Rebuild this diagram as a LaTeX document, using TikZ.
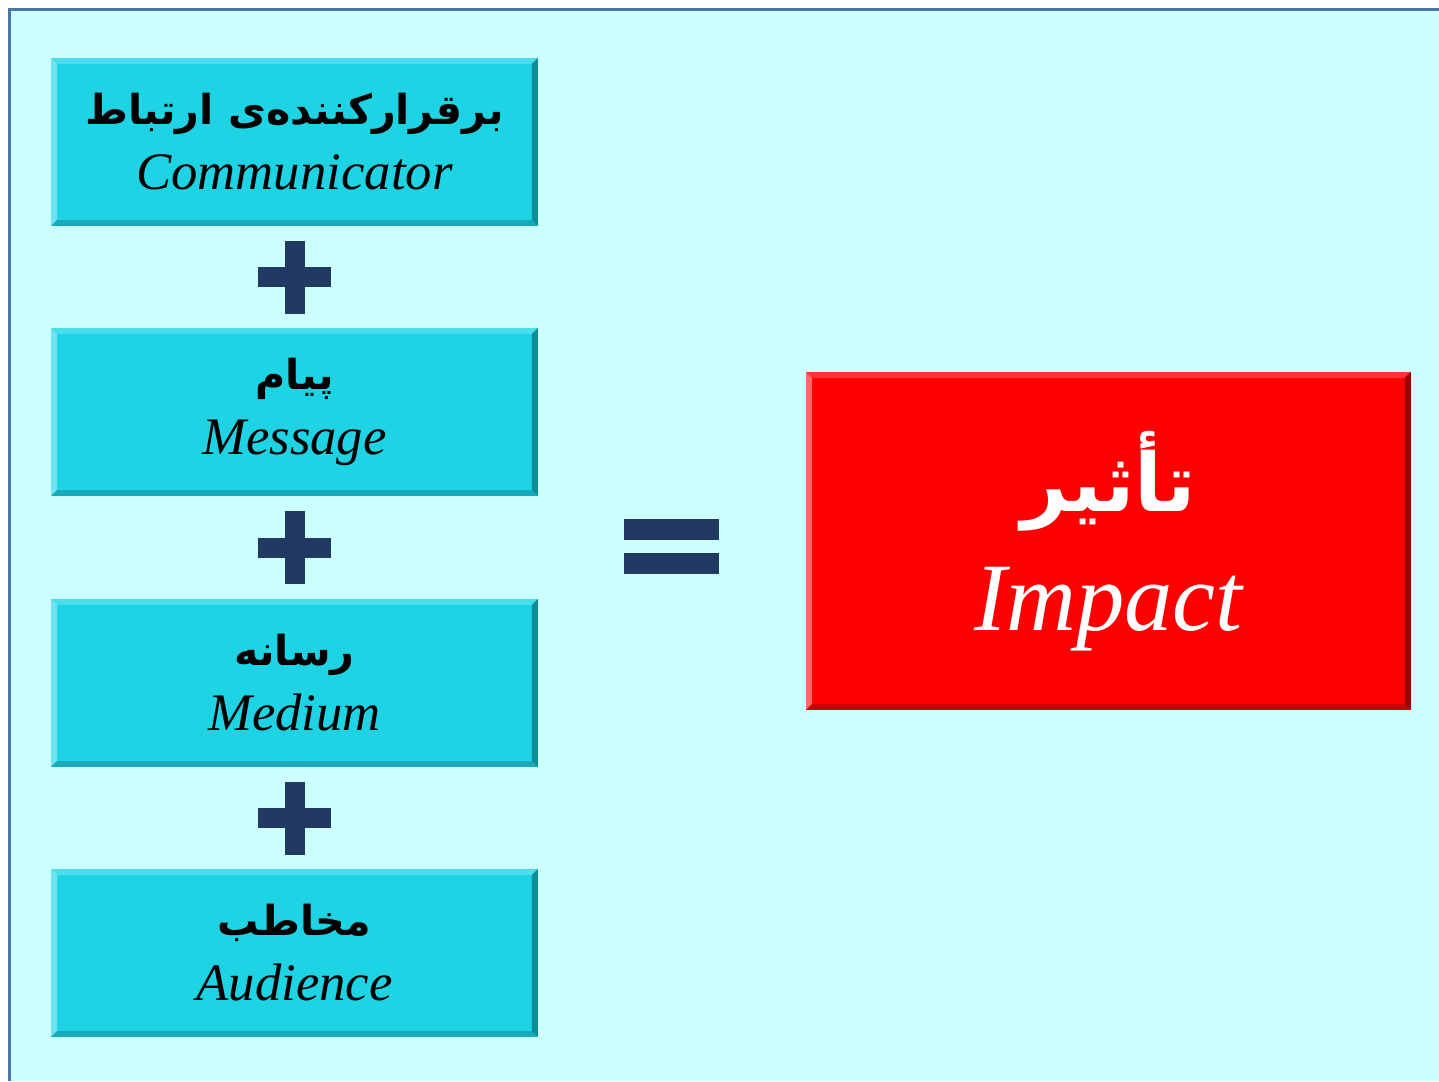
\documentclass[tikz,border=0pt]{standalone}
\usepackage{fontspec}
\setmainfont{Liberation Serif}
\newfontfamily\farsifont[Script=Arabic]{DejaVu Sans}
\TeXXeTstate=1
\usetikzlibrary{positioning}
\definecolor{bgcyan}{RGB}{204,255,255}
\definecolor{framegray}{RGB}{74,118,168}
\definecolor{boxface}{RGB}{29,211,228}
\definecolor{boxtop}{RGB}{74,221,235}
\definecolor{boxleft}{RGB}{111,227,239}
\definecolor{boxright}{RGB}{15,140,150}
\definecolor{boxbottom}{RGB}{23,170,184}
\definecolor{redface}{RGB}{255,0,0}
\definecolor{redtop}{RGB}{255,51,51}
\definecolor{redleft}{RGB}{255,102,102}
\definecolor{redright}{RGB}{153,0,0}
\definecolor{redbottom}{RGB}{204,0,0}
\definecolor{signnavy}{RGB}{33,58,99}

% bevelled edge inside a node: top, left, right, bottom, width
\newcommand{\bevels}[5]{%
  \path (path picture bounding box.north west) coordinate (pNW)
        (path picture bounding box.north east) coordinate (pNE)
        (path picture bounding box.south west) coordinate (pSW)
        (path picture bounding box.south east) coordinate (pSE);
  \fill[#1] (pNW) -- (pNE) -- ([shift={(-#5,-#5)}]pNE) -- ([shift={(#5,-#5)}]pNW) -- cycle;
  \fill[#2] (pNW) -- ([shift={(#5,-#5)}]pNW) -- ([shift={(#5,#5)}]pSW) -- (pSW) -- cycle;
  \fill[#3] (pNE) -- (pSE) -- ([shift={(-#5,#5)}]pSE) -- ([shift={(-#5,-#5)}]pNE) -- cycle;
  \fill[#4] (pSW) -- ([shift={(#5,#5)}]pSW) -- ([shift={(-#5,#5)}]pSE) -- (pSE) -- cycle;
}
\newcommand{\fa}[1]{\farsifont\bfseries\upshape\fontsize{#1}{37}\selectfont}

\tikzset{
  termbox/.style={minimum width=9.74cm, minimum height=3.36cm, inner sep=0pt,
    fill=boxface, align=center, text=black,
    font=\fontsize{30}{37}\selectfont\itshape,
    path picture={\bevels{boxtop}{boxleft}{boxright}{boxbottom}{3.4pt}}},
  resultbox/.style={minimum width=12.1cm, minimum height=6.76cm, inner sep=0pt,
    fill=redface, align=center, text=white,
    font=\fontsize{55}{68}\selectfont\itshape,
    path picture={\bevels{redtop}{redleft}{redright}{redbottom}{3.4pt}}},
  signbar/.style={fill=signnavy}
}

\begin{document}
\begin{tikzpicture}[x=0.02cm, y=-0.02cm]
\useasboundingbox (0,0) rectangle (1439,1081);
% Background
\fill[white] (0,0) rectangle (1439,1081);
\fill[bgcyan] (9.5,9.5) rectangle (1439,1081);
\draw[framegray, line width=1.7pt] (9.5,1081) -- (9.5,9.5) -- (1439,9.5);
% Terms
\node[termbox] (comm) at (294.5,142) {{\fa{23.5}\beginR برقرارکننده^^^^200cی ارتباط\endR}\\Communicator};
\node[termbox] (msg) at (294.5,412) {{\fa{23.5}\beginR پیام\endR}\\Message};
\node[termbox] (medium) at (294.5,683) {{\fa{23.5}\beginR رسانه\endR}\\Medium};
\node[termbox] (aud) at (294.5,953) {{\fa{23.5}\beginR مخاطب\endR}\\Audience};
% Result
\node[resultbox] (impact) at (1108.5,541) {{\fa{46}\beginR تأثیر\endR}\\Impact};
% Plus signs
\path (comm.south) -- node[coordinate, pos=0.5] (plusA) {} (msg.north);
\path (msg.south) -- node[coordinate, pos=0.5] (plusB) {} (medium.north);
\path (medium.south) -- node[coordinate, pos=0.5] (plusC) {} (aud.north);
\foreach \p in {plusA,plusB,plusC} {
  \fill[signbar] ([shift={(-10,-36.5)}]\p) rectangle ([shift={(10,36.5)}]\p);
  \fill[signbar] ([shift={(-36.5,-10)}]\p) rectangle ([shift={(36.5,10)}]\p);
}
% Equals sign
\coordinate (eq) at (671.5,546.5);
\fill[signbar] ([shift={(-47.5,-27.5)}]eq) rectangle ([shift={(47.5,-6.5)}]eq);
\fill[signbar] ([shift={(-47.5,6.5)}]eq) rectangle ([shift={(47.5,27.5)}]eq);
\end{tikzpicture}
\end{document}
